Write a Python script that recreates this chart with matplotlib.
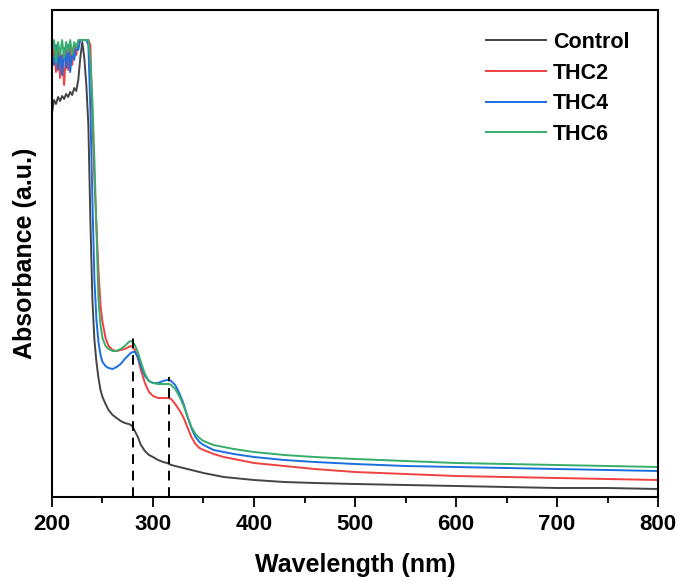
import matplotlib
matplotlib.use("Agg")
import matplotlib.pyplot as plt
from matplotlib.ticker import MultipleLocator

plt.rcParams['font.family'] = ['Liberation Sans', 'DejaVu Sans']
plt.rcParams['font.weight'] = 'bold'

wavelength = [200, 202, 204, 206, 208, 210, 212, 214, 216, 218, 220, 222, 224, 226, 228, 230,
              232, 234, 236, 238, 240, 242, 244, 246, 248, 250,
              253, 256, 260, 264, 268, 272, 276, 278, 280, 282, 285, 288, 292, 296, 300,
              305, 310, 314, 316, 318, 322, 326, 330, 334, 338, 342, 346, 350,
              360, 370, 380, 400, 430, 460, 500, 550, 600, 650, 700, 750, 800]

control = [3.84, 3.97, 3.93, 4.00, 3.96, 4.01, 3.98, 4.03, 4.00, 4.05, 4.02, 4.09, 4.06, 4.17, 4.39, 4.55,
           4.39, 4.12, 3.72, 2.77, 1.97, 1.57, 1.35, 1.19, 1.07, 1.00,
           0.93, 0.87, 0.82, 0.79, 0.76, 0.74, 0.73, 0.72, 0.70, 0.66, 0.60, 0.52, 0.46, 0.42, 0.40,
           0.37, 0.35, 0.34, 0.33, 0.32, 0.31, 0.30, 0.29, 0.28, 0.27, 0.26, 0.25, 0.24,
           0.22, 0.20, 0.19, 0.17, 0.15, 0.14, 0.13, 0.12, 0.11, 0.10, 0.09, 0.09, 0.08]

thc2 = [4.37, 4.49, 4.25, 4.47, 4.19, 4.42, 4.12, 4.47, 4.27, 4.49, 4.32, 4.52, 4.42, 4.55, 4.57, 4.57,
        4.57, 4.57, 4.57, 4.52, 3.77, 3.17, 2.72, 2.27, 1.92, 1.75,
        1.59, 1.51, 1.47, 1.46, 1.47, 1.48, 1.50, 1.51, 1.50, 1.47, 1.39, 1.27, 1.14, 1.05, 1.01,
        0.99, 0.99, 0.99, 0.99, 0.98, 0.93, 0.87, 0.80, 0.70, 0.60, 0.53, 0.49, 0.47,
        0.43, 0.40, 0.38, 0.34, 0.31, 0.28, 0.25, 0.23, 0.21, 0.20, 0.19, 0.18, 0.17]

thc4 = [4.42, 4.32, 4.52, 4.27, 4.47, 4.22, 4.49, 4.29, 4.52, 4.25, 4.47, 4.37, 4.52, 4.47, 4.57, 4.57,
        4.57, 4.57, 4.52, 3.87, 2.97, 2.17, 1.77, 1.55, 1.42, 1.35,
        1.31, 1.29, 1.28, 1.30, 1.33, 1.38, 1.42, 1.44, 1.45, 1.45, 1.40, 1.31, 1.21, 1.16, 1.14,
        1.14, 1.16, 1.17, 1.17, 1.16, 1.12, 1.04, 0.94, 0.81, 0.69, 0.60, 0.55, 0.52,
        0.47, 0.45, 0.43, 0.40, 0.37, 0.35, 0.33, 0.31, 0.30, 0.29, 0.28, 0.27, 0.26]

thc6 = [4.47, 4.57, 4.35, 4.55, 4.42, 4.57, 4.39, 4.55, 4.45, 4.57, 4.42, 4.55, 4.49, 4.57, 4.57, 4.57,
        4.57, 4.57, 4.57, 4.37, 3.97, 3.37, 2.67, 1.97, 1.72, 1.59,
        1.51, 1.48, 1.46, 1.46, 1.48, 1.51, 1.55, 1.56, 1.55, 1.52, 1.45, 1.35, 1.23, 1.16, 1.14,
        1.13, 1.13, 1.13, 1.13, 1.12, 1.08, 1.01, 0.92, 0.81, 0.70, 0.63, 0.59, 0.56,
        0.52, 0.50, 0.48, 0.45, 0.42, 0.40, 0.38, 0.36, 0.34, 0.33, 0.32, 0.31, 0.30]

series_names = ['Control', 'THC2', 'THC4', 'THC6']
series_values = [control, thc2, thc4, thc6]
series_colors = ['#444444', '#f14040', '#1a6fdf', '#37ad6b']

peak_positions = [280, 316]
peak_heights = [1.59, 1.20]

xticks = [200, 300, 400, 500, 600, 700, 800]

fig = plt.figure(figsize=(6.78, 5.81), dpi=100)
ax = fig.add_axes([52/678, (581-497)/581, (658-52)/678, (497-10)/581])

for name, vals, col in zip(series_names, series_values, series_colors):
    ax.plot(wavelength, vals, color=col, lw=1.4, label=name)

for xp, yp in zip(peak_positions, peak_heights):
    ax.plot([xp, xp], [0, yp], color='black', lw=1.4, ls=(0, (5, 3.5)))

ax.set_xlim(200, 800)
ax.set_ylim(0, 4.87)
ax.set_xticks(xticks)
ax.xaxis.set_minor_locator(MultipleLocator(50))
ax.tick_params(axis='x', which='major', direction='out', length=7, width=1.3,
               labelsize=16, pad=5)
ax.tick_params(axis='x', which='minor', direction='out', length=4, width=1.3)
ax.tick_params(axis='y', which='both', left=False, labelleft=False)
for lab in ax.get_xticklabels():
    lab.set_fontweight('bold')
for sp in ax.spines.values():
    sp.set_linewidth(1.5)

ax.set_xlabel('Wavelength (nm)', fontsize=18, fontweight='bold', labelpad=13)
ax.set_ylabel('Absorbance (a.u.)', fontsize=18, fontweight='bold', labelpad=11)

leg = ax.legend(loc='upper left', bbox_to_anchor=(0.716, 0.955), frameon=False,
                fontsize=15.5, handlelength=2.8, handletextpad=0.3,
                labelspacing=0.45, borderpad=0, borderaxespad=0)
for t in leg.get_texts():
    t.set_fontweight('bold')

fig.savefig('out.png', dpi=100)
